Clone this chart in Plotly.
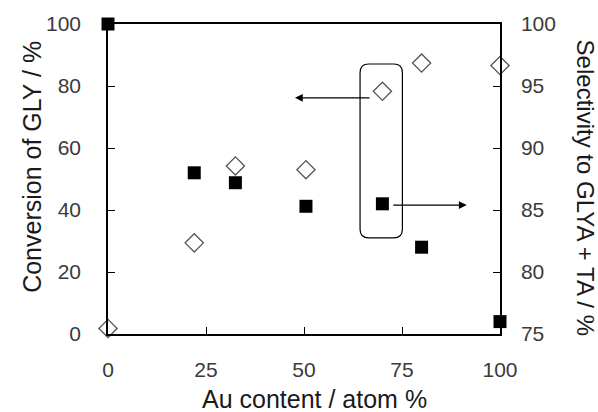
import plotly.graph_objects as go

# Data
au_content = [0, 22, 32.5, 50.5, 70, 80, 100]
conversion = [1.8, 29.4, 54.2, 53.0, 78.3, 87.4, 86.6]
au_sel = [0, 22, 32.5, 50.5, 70, 80, 100]
selectivity = [100, 88.0, 87.2, 85.3, 85.5, 82.0, 76.0]

x_ticks = [0, 25, 50, 75, 100]
y_ticks = [0, 20, 40, 60, 80, 100]
y2_ticks = [75, 80, 85, 90, 95, 100]

FONT = "Liberation Sans, Arial, sans-serif"
TICKC = "#3a3a3a"

fig = go.Figure()
fig.add_trace(go.Scatter(
    x=au_content, y=conversion, mode="markers", yaxis="y", cliponaxis=False,
    marker=dict(symbol="diamond-open", size=14, color="#555555", line=dict(width=1.3)),
    showlegend=False))
fig.add_trace(go.Scatter(
    x=au_sel, y=selectivity, mode="markers", yaxis="y2", cliponaxis=False,
    marker=dict(symbol="square", size=13, color="black", line=dict(width=0)),
    showlegend=False))

# rounded rectangle around point at 70 %
x0, x1, y0, y1 = 64.3, 75.1, 31.0, 87.1
rx, ry = 2.2, 2.8
path = (f"M {x0+rx},{y0} L {x1-rx},{y0} Q {x1},{y0} {x1},{y0+ry} "
        f"L {x1},{y1-ry} Q {x1},{y1} {x1-rx},{y1} L {x0+rx},{y1} "
        f"Q {x0},{y1} {x0},{y1-ry} L {x0},{y0+ry} Q {x0},{y0} {x0+rx},{y0} Z")
fig.add_shape(type="path", path=path, xref="x", yref="y",
              line=dict(color="black", width=1.2))

# arrows
fig.add_annotation(x=47.7, y=76.2, ax=67.1, ay=76.2, xref="x", yref="y",
                   axref="x", ayref="y", text="", showarrow=True,
                   arrowhead=2, arrowsize=1.2, arrowwidth=1.3, arrowcolor="black")
fig.add_annotation(x=91.5, y=41.6, ax=72.4, ay=41.6, xref="x", yref="y",
                   axref="x", ayref="y", text="", showarrow=True,
                   arrowhead=2, arrowsize=1.2, arrowwidth=1.3, arrowcolor="black")

# axis titles
fig.add_annotation(x=-0.194, y=0.539, xref="paper", yref="paper", text="Conversion of GLY / %",
                   textangle=-90, showarrow=False, xanchor="center", yanchor="middle",
                   font=dict(family=FONT, size=25, color="#1a1a1a"))
fig.add_annotation(x=1.217, y=0.472, xref="paper", yref="paper", text="Selectivity to GLYA + TA / %",
                   textangle=90, showarrow=False, xanchor="center", yanchor="middle",
                   font=dict(family=FONT, size=24, color="#1a1a1a"))
fig.add_annotation(x=0.526, y=-0.209, xref="paper", yref="paper", text="Au content / atom %",
                   showarrow=False, xanchor="center", yanchor="middle",
                   font=dict(family=FONT, size=25, color="#1a1a1a"))

fig.update_layout(
    width=598, height=412,
    margin=dict(l=108, r=98, t=22, b=78),
    paper_bgcolor="white", plot_bgcolor="white",
    font=dict(family=FONT),
    xaxis=dict(range=[0, 100], tickvals=x_ticks, ticks="inside", ticklen=7,
               tickcolor="black", showline=True, linecolor="black", linewidth=1.5,
               mirror=True, showgrid=False, zeroline=False,
               tickfont=dict(size=21, color=TICKC), ticklabelstandoff=16),
    yaxis=dict(range=[0, 100], tickvals=y_ticks, ticks="inside", ticklen=7,
               tickcolor="black", showline=True, linecolor="black", linewidth=1.5,
               showgrid=False, zeroline=False,
               tickfont=dict(size=21, color=TICKC), ticklabelstandoff=21),
    yaxis2=dict(range=[75, 100], tickvals=y2_ticks, ticks="inside", ticklen=7,
                tickcolor="black", showline=True, linecolor="black", linewidth=1.5,
                overlaying="y", side="right", showgrid=False, zeroline=False,
                tickfont=dict(size=21, color=TICKC), ticklabelstandoff=15),
)

fig.write_html("out.html", config={"displayModeBar": False},
               post_script="document.body.style.margin='0';")
